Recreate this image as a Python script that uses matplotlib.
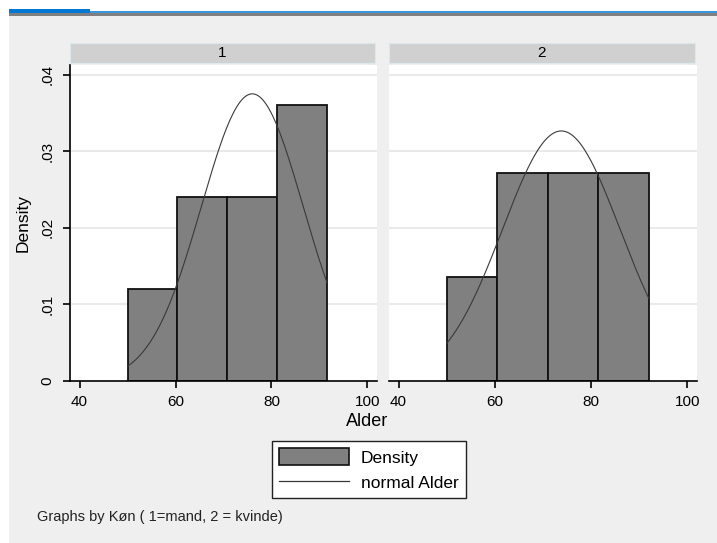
import numpy as np
import matplotlib
matplotlib.use('Agg')
import matplotlib.pyplot as plt
from matplotlib.patches import Rectangle, Patch
from matplotlib.lines import Line2D

plt.rcParams['font.family'] = ['Liberation Sans', 'DejaVu Sans']

# histogram bins (left edges), bin width and densities per group (Køn)
groups = ['1', '2']
bin_starts = [[50.0, 60.39, 70.78, 81.17], [50.0, 60.5, 71.0, 81.5]]
bin_width = [10.39, 10.5]
densities = [[0.0120, 0.0240, 0.0240, 0.0361], [0.0136, 0.0272, 0.0272, 0.0272]]
# normal curve parameters (mean, sd, range of data)
norm_mean = [76.0, 73.8]
norm_sd = [10.63, 12.21]
data_range = [(50.0, 91.56), (50.0, 92.0)]

xticks = [40, 60, 80, 100]
yticks = [0, 0.01, 0.02, 0.03, 0.04]
ytick_labels = ['0', '.01', '.02', '.03', '.04']

W, H = 717, 543
fig = plt.figure(figsize=(W / 100, H / 100), dpi=100)
fig.patch.set_facecolor('white')

def px(x0, y0, x1, y1):
    # pixel box (top-left origin) -> figure fraction rect
    return [x0 / W, 1 - y1 / H, (x1 - x0) / W, (y1 - y0) / H]

# window chrome + grey background
fig.patches.append(Rectangle((9 / W, 0), 1, 1 - 16 / H, transform=fig.transFigure,
                             facecolor='#efefef', edgecolor='none', zorder=-10))
fig.patches.append(Rectangle((9 / W, 1 - 13 / H), 1, 2 / H, transform=fig.transFigure,
                             facecolor='#3c96dc', edgecolor='none', zorder=-9))
fig.patches.append(Rectangle((9 / W, 1 - 13 / H), 81 / W, 4 / H, transform=fig.transFigure,
                             facecolor='#0078d4', edgecolor='none', zorder=-9))
fig.patches.append(Rectangle((9 / W, 1 - 16 / H), 1, 3 / H, transform=fig.transFigure,
                             facecolor='#808080', edgecolor='none', zorder=-9))

panels = [(70, 377), (389, 697)]
top, bottom = 65, 380.7

for i, g in enumerate(groups):
    x0, x1 = panels[i]
    ax = fig.add_axes(px(x0, top, x1, bottom))
    ax.set_facecolor('white')
    ax.set_xlim(38, 102)
    ax.set_ylim(0, 0.0413)
    ax.set_yticks(yticks)
    for y in yticks[1:]:
        ax.axhline(y, color='#eaeaea', lw=1.5, zorder=0)
    ax.bar(bin_starts[i], densities[i], width=bin_width[i], align='edge',
           color='#808080', edgecolor='#111111', linewidth=1.3, zorder=2)
    lo, hi = data_range[i]
    xs = np.linspace(lo, hi, 200)
    ys = np.exp(-0.5 * ((xs - norm_mean[i]) / norm_sd[i]) ** 2) / (norm_sd[i] * np.sqrt(2 * np.pi))
    ax.plot(xs, ys, color='#3a3a3a', lw=0.8, zorder=3)

    for s in ['top', 'right']:
        ax.spines[s].set_visible(False)
    ax.spines['bottom'].set_linewidth(1.2)
    ax.set_xticks(xticks)
    ax.tick_params(axis='x', length=5, width=1.2, labelsize=11, pad=5.5)
    if i == 0:
        ax.spines['left'].set_linewidth(1.2)
        ax.set_yticklabels(ytick_labels, rotation=90, va='center')
        ax.tick_params(axis='y', length=5, width=1.2, labelsize=11, pad=6)
        ax.set_ylabel('Density', fontsize=12.5, labelpad=7)
    else:
        ax.spines['left'].set_visible(False)
        ax.tick_params(axis='y', left=False, labelleft=False)

    # strip header
    sx = fig.add_axes(px(x0, 43, x1 - 2, 63))
    sx.set_facecolor('#d0d0d0')
    for s in sx.spines.values():
        s.set_edgecolor('#dde8ee')
    sx.set_xticks([])
    sx.set_yticks([])
    sx.text(0.5, 0.5, g, ha='center', va='center', fontsize=11, transform=sx.transAxes)

fig.text(367.5 / W, 1 - 422 / H, 'Alder', ha='center', va='center', fontsize=13)

handles = [Patch(facecolor='#808080', edgecolor='#111111', linewidth=1.2),
           Line2D([0], [0], color='#3a3a3a', lw=0.9)]
leg = fig.legend(handles, ['Density', 'normal Alder'], loc='center',
                 bbox_to_anchor=(369 / W, 1 - 469.5 / H), fontsize=12.5, frameon=True,
                 fancybox=False, edgecolor='#222222', framealpha=1,
                 handlelength=4.0, handleheight=1.15, handletextpad=0.7,
                 labelspacing=0.45, borderpad=0.4)
leg.get_frame().set_linewidth(1.0)

fig.text(37 / W, 1 - 517 / H, 'Graphs by Køn ( 1=mand, 2 = kvinde)', ha='left', va='center',
         fontsize=10.5, color='#222222')

fig.savefig('out.png', dpi=100, facecolor=fig.get_facecolor())
